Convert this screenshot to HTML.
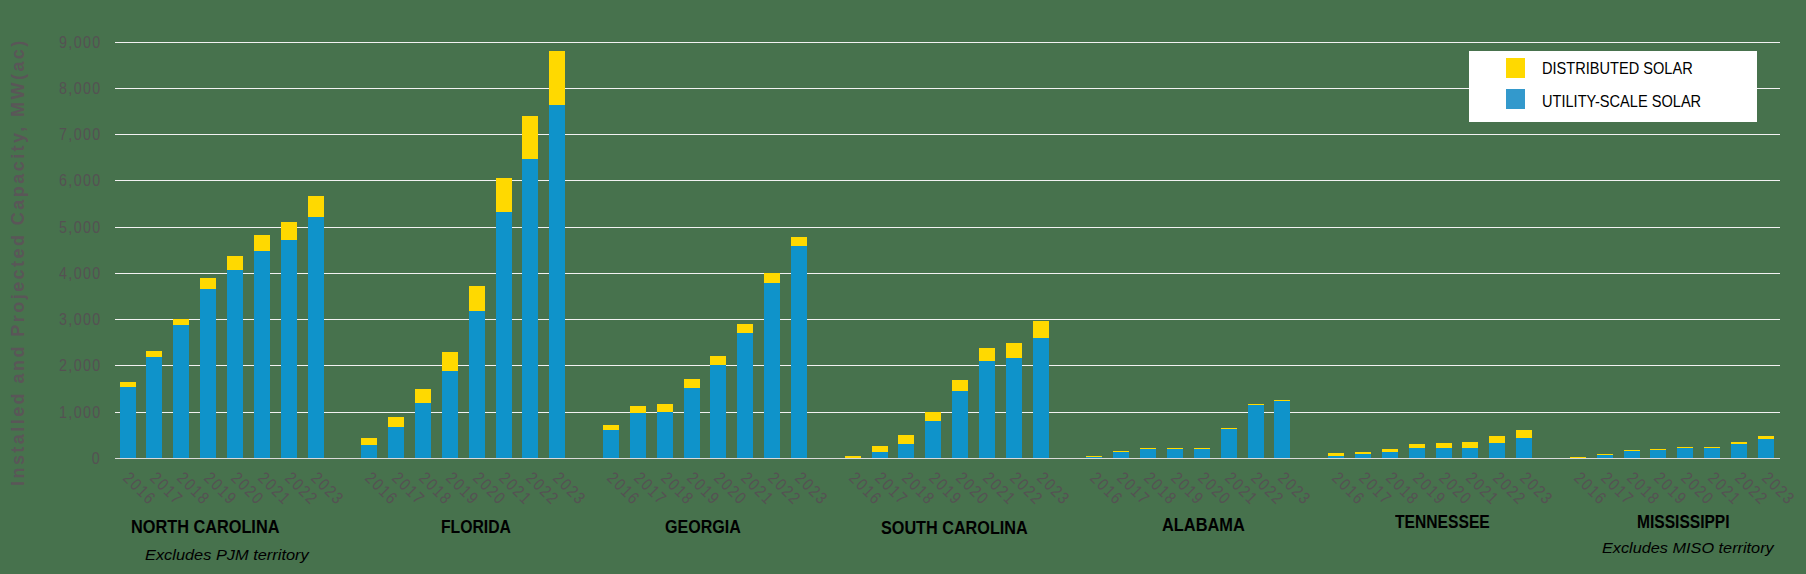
<!DOCTYPE html>
<html><head><meta charset="utf-8"><style>
html,body{margin:0;padding:0;}
body{width:1806px;height:574px;background:#47724d;position:relative;overflow:hidden;font-family:"Liberation Sans",sans-serif;}
#c div{position:absolute;}
.yl{position:absolute;right:1704.5px;font-size:17px;color:#555153;line-height:18px;letter-spacing:1.6px;white-space:nowrap;transform-origin:100% 0;transform:scaleX(0.84);}
.xl{position:absolute;font-size:17px;color:#555153;line-height:18px;letter-spacing:2px;white-space:nowrap;transform-origin:0 0;transform:rotate(45deg) scaleX(0.84);}
.st{position:absolute;transform-origin:0 0;font-weight:bold;font-size:18px;color:#000;white-space:nowrap;line-height:20px;}
.ex{position:absolute;transform-origin:0 0;font-style:italic;font-size:15px;color:#000;white-space:nowrap;line-height:18px;}
#yt{position:absolute;left:8px;top:486px;transform-origin:0 0;transform:rotate(-90deg);font-weight:bold;font-size:18px;color:#5a5658;letter-spacing:2.45px;white-space:nowrap;line-height:20px;}
#leg{position:absolute;left:1469px;top:51px;width:288px;height:71px;background:#fff;}
.sw{position:absolute;left:37px;width:19px;height:20px;}
.lt{position:absolute;left:73px;font-size:16.5px;color:#000;white-space:nowrap;line-height:18px;transform-origin:0 0;transform:scaleX(0.884);}
</style></head><body>
<div id="c">
<div style="left:115px;top:42px;width:1665px;height:1px;background:#f2f2f2"></div>
<div style="left:115px;top:88px;width:1665px;height:1px;background:#f2f2f2"></div>
<div style="left:115px;top:134px;width:1665px;height:1px;background:#f2f2f2"></div>
<div style="left:115px;top:180px;width:1665px;height:1px;background:#f2f2f2"></div>
<div style="left:115px;top:227px;width:1665px;height:1px;background:#f2f2f2"></div>
<div style="left:115px;top:273px;width:1665px;height:1px;background:#f2f2f2"></div>
<div style="left:115px;top:319px;width:1665px;height:1px;background:#f2f2f2"></div>
<div style="left:115px;top:365px;width:1665px;height:1px;background:#f2f2f2"></div>
<div style="left:115px;top:412px;width:1665px;height:1px;background:#f2f2f2"></div>
<div style="left:120px;top:382px;width:16px;height:5px;background:#ffd900"></div>
<div style="left:120px;top:387px;width:16px;height:71px;background:#0f93ca"></div>
<div style="left:146px;top:351px;width:16px;height:6px;background:#ffd900"></div>
<div style="left:146px;top:357px;width:16px;height:101px;background:#0f93ca"></div>
<div style="left:173px;top:319px;width:16px;height:6px;background:#ffd900"></div>
<div style="left:173px;top:325px;width:16px;height:133px;background:#0f93ca"></div>
<div style="left:200px;top:278px;width:16px;height:11px;background:#ffd900"></div>
<div style="left:200px;top:289px;width:16px;height:169px;background:#0f93ca"></div>
<div style="left:227px;top:256px;width:16px;height:14px;background:#ffd900"></div>
<div style="left:227px;top:270px;width:16px;height:188px;background:#0f93ca"></div>
<div style="left:254px;top:235px;width:16px;height:16px;background:#ffd900"></div>
<div style="left:254px;top:251px;width:16px;height:207px;background:#0f93ca"></div>
<div style="left:281px;top:222px;width:16px;height:18px;background:#ffd900"></div>
<div style="left:281px;top:240px;width:16px;height:218px;background:#0f93ca"></div>
<div style="left:308px;top:196px;width:16px;height:21px;background:#ffd900"></div>
<div style="left:308px;top:217px;width:16px;height:241px;background:#0f93ca"></div>
<div style="left:361px;top:438px;width:16px;height:7px;background:#ffd900"></div>
<div style="left:361px;top:445px;width:16px;height:13px;background:#0f93ca"></div>
<div style="left:388px;top:417px;width:16px;height:10px;background:#ffd900"></div>
<div style="left:388px;top:427px;width:16px;height:31px;background:#0f93ca"></div>
<div style="left:415px;top:389px;width:16px;height:14px;background:#ffd900"></div>
<div style="left:415px;top:403px;width:16px;height:55px;background:#0f93ca"></div>
<div style="left:442px;top:352px;width:16px;height:19px;background:#ffd900"></div>
<div style="left:442px;top:371px;width:16px;height:87px;background:#0f93ca"></div>
<div style="left:469px;top:286px;width:16px;height:25px;background:#ffd900"></div>
<div style="left:469px;top:311px;width:16px;height:147px;background:#0f93ca"></div>
<div style="left:496px;top:178px;width:16px;height:34px;background:#ffd900"></div>
<div style="left:496px;top:212px;width:16px;height:246px;background:#0f93ca"></div>
<div style="left:522px;top:116px;width:16px;height:43px;background:#ffd900"></div>
<div style="left:522px;top:159px;width:16px;height:299px;background:#0f93ca"></div>
<div style="left:549px;top:51px;width:16px;height:54px;background:#ffd900"></div>
<div style="left:549px;top:105px;width:16px;height:353px;background:#0f93ca"></div>
<div style="left:603px;top:425px;width:16px;height:5px;background:#ffd900"></div>
<div style="left:603px;top:430px;width:16px;height:28px;background:#0f93ca"></div>
<div style="left:630px;top:406px;width:16px;height:7px;background:#ffd900"></div>
<div style="left:630px;top:413px;width:16px;height:45px;background:#0f93ca"></div>
<div style="left:657px;top:404px;width:16px;height:8px;background:#ffd900"></div>
<div style="left:657px;top:412px;width:16px;height:46px;background:#0f93ca"></div>
<div style="left:684px;top:379px;width:16px;height:9px;background:#ffd900"></div>
<div style="left:684px;top:388px;width:16px;height:70px;background:#0f93ca"></div>
<div style="left:710px;top:356px;width:16px;height:9px;background:#ffd900"></div>
<div style="left:710px;top:365px;width:16px;height:93px;background:#0f93ca"></div>
<div style="left:737px;top:324px;width:16px;height:9px;background:#ffd900"></div>
<div style="left:737px;top:333px;width:16px;height:125px;background:#0f93ca"></div>
<div style="left:764px;top:273px;width:16px;height:10px;background:#ffd900"></div>
<div style="left:764px;top:283px;width:16px;height:175px;background:#0f93ca"></div>
<div style="left:791px;top:237px;width:16px;height:9px;background:#ffd900"></div>
<div style="left:791px;top:246px;width:16px;height:212px;background:#0f93ca"></div>
<div style="left:845px;top:456px;width:16px;height:2px;background:#ffd900"></div>
<div style="left:872px;top:446px;width:16px;height:6px;background:#ffd900"></div>
<div style="left:872px;top:452px;width:16px;height:6px;background:#0f93ca"></div>
<div style="left:898px;top:435px;width:16px;height:9px;background:#ffd900"></div>
<div style="left:898px;top:444px;width:16px;height:14px;background:#0f93ca"></div>
<div style="left:925px;top:412px;width:16px;height:9px;background:#ffd900"></div>
<div style="left:925px;top:421px;width:16px;height:37px;background:#0f93ca"></div>
<div style="left:952px;top:380px;width:16px;height:11px;background:#ffd900"></div>
<div style="left:952px;top:391px;width:16px;height:67px;background:#0f93ca"></div>
<div style="left:979px;top:348px;width:16px;height:13px;background:#ffd900"></div>
<div style="left:979px;top:361px;width:16px;height:97px;background:#0f93ca"></div>
<div style="left:1006px;top:343px;width:16px;height:15px;background:#ffd900"></div>
<div style="left:1006px;top:358px;width:16px;height:100px;background:#0f93ca"></div>
<div style="left:1033px;top:321px;width:16px;height:17px;background:#ffd900"></div>
<div style="left:1033px;top:338px;width:16px;height:120px;background:#0f93ca"></div>
<div style="left:1086px;top:456px;width:16px;height:1px;background:#ffd900"></div>
<div style="left:1086px;top:457px;width:16px;height:1px;background:#0f93ca"></div>
<div style="left:1113px;top:451px;width:16px;height:1px;background:#ffd900"></div>
<div style="left:1113px;top:452px;width:16px;height:6px;background:#0f93ca"></div>
<div style="left:1140px;top:448px;width:16px;height:1px;background:#ffd900"></div>
<div style="left:1140px;top:449px;width:16px;height:9px;background:#0f93ca"></div>
<div style="left:1167px;top:448px;width:16px;height:1px;background:#ffd900"></div>
<div style="left:1167px;top:449px;width:16px;height:9px;background:#0f93ca"></div>
<div style="left:1194px;top:448px;width:16px;height:1px;background:#ffd900"></div>
<div style="left:1194px;top:449px;width:16px;height:9px;background:#0f93ca"></div>
<div style="left:1221px;top:428px;width:16px;height:1px;background:#ffd900"></div>
<div style="left:1221px;top:429px;width:16px;height:29px;background:#0f93ca"></div>
<div style="left:1248px;top:404px;width:16px;height:1px;background:#ffd900"></div>
<div style="left:1248px;top:405px;width:16px;height:53px;background:#0f93ca"></div>
<div style="left:1274px;top:400px;width:16px;height:1px;background:#ffd900"></div>
<div style="left:1274px;top:401px;width:16px;height:57px;background:#0f93ca"></div>
<div style="left:1328px;top:453px;width:16px;height:3px;background:#ffd900"></div>
<div style="left:1328px;top:456px;width:16px;height:2px;background:#0f93ca"></div>
<div style="left:1355px;top:452px;width:16px;height:2px;background:#ffd900"></div>
<div style="left:1355px;top:454px;width:16px;height:4px;background:#0f93ca"></div>
<div style="left:1382px;top:449px;width:16px;height:3px;background:#ffd900"></div>
<div style="left:1382px;top:452px;width:16px;height:6px;background:#0f93ca"></div>
<div style="left:1409px;top:444px;width:16px;height:4px;background:#ffd900"></div>
<div style="left:1409px;top:448px;width:16px;height:10px;background:#0f93ca"></div>
<div style="left:1436px;top:443px;width:16px;height:5px;background:#ffd900"></div>
<div style="left:1436px;top:448px;width:16px;height:10px;background:#0f93ca"></div>
<div style="left:1462px;top:442px;width:16px;height:6px;background:#ffd900"></div>
<div style="left:1462px;top:448px;width:16px;height:10px;background:#0f93ca"></div>
<div style="left:1489px;top:436px;width:16px;height:7px;background:#ffd900"></div>
<div style="left:1489px;top:443px;width:16px;height:15px;background:#0f93ca"></div>
<div style="left:1516px;top:430px;width:16px;height:8px;background:#ffd900"></div>
<div style="left:1516px;top:438px;width:16px;height:20px;background:#0f93ca"></div>
<div style="left:1570px;top:457px;width:16px;height:1px;background:#ffd900"></div>
<div style="left:1597px;top:454px;width:16px;height:1px;background:#ffd900"></div>
<div style="left:1597px;top:455px;width:16px;height:3px;background:#0f93ca"></div>
<div style="left:1624px;top:450px;width:16px;height:1px;background:#ffd900"></div>
<div style="left:1624px;top:451px;width:16px;height:7px;background:#0f93ca"></div>
<div style="left:1650px;top:449px;width:16px;height:1px;background:#ffd900"></div>
<div style="left:1650px;top:450px;width:16px;height:8px;background:#0f93ca"></div>
<div style="left:1677px;top:447px;width:16px;height:1px;background:#ffd900"></div>
<div style="left:1677px;top:448px;width:16px;height:10px;background:#0f93ca"></div>
<div style="left:1704px;top:447px;width:16px;height:1px;background:#ffd900"></div>
<div style="left:1704px;top:448px;width:16px;height:10px;background:#0f93ca"></div>
<div style="left:1731px;top:442px;width:16px;height:2px;background:#ffd900"></div>
<div style="left:1731px;top:444px;width:16px;height:14px;background:#0f93ca"></div>
<div style="left:1758px;top:436px;width:16px;height:3px;background:#ffd900"></div>
<div style="left:1758px;top:439px;width:16px;height:19px;background:#0f93ca"></div>
<div style="left:115px;top:458px;width:1665px;height:1px;background:#d9d9d9"></div>
</div>
<div class="yl" style="top:34px">9,000</div>
<div class="yl" style="top:80px">8,000</div>
<div class="yl" style="top:126px">7,000</div>
<div class="yl" style="top:172px">6,000</div>
<div class="yl" style="top:219px">5,000</div>
<div class="yl" style="top:265px">4,000</div>
<div class="yl" style="top:311px">3,000</div>
<div class="yl" style="top:357px">2,000</div>
<div class="yl" style="top:404px">1,000</div>
<div class="yl" style="top:450px">0</div>
<div class="xl" style="left:132.4px;top:469px">2016</div>
<div class="xl" style="left:159.3px;top:469px">2017</div>
<div class="xl" style="left:186.1px;top:469px">2018</div>
<div class="xl" style="left:213.0px;top:469px">2019</div>
<div class="xl" style="left:239.8px;top:469px">2020</div>
<div class="xl" style="left:266.7px;top:469px">2021</div>
<div class="xl" style="left:293.6px;top:469px">2022</div>
<div class="xl" style="left:320.4px;top:469px">2023</div>
<div class="xl" style="left:374.1px;top:469px">2016</div>
<div class="xl" style="left:401.0px;top:469px">2017</div>
<div class="xl" style="left:427.8px;top:469px">2018</div>
<div class="xl" style="left:454.7px;top:469px">2019</div>
<div class="xl" style="left:481.5px;top:469px">2020</div>
<div class="xl" style="left:508.4px;top:469px">2021</div>
<div class="xl" style="left:535.3px;top:469px">2022</div>
<div class="xl" style="left:562.1px;top:469px">2023</div>
<div class="xl" style="left:615.8px;top:469px">2016</div>
<div class="xl" style="left:642.7px;top:469px">2017</div>
<div class="xl" style="left:669.5px;top:469px">2018</div>
<div class="xl" style="left:696.4px;top:469px">2019</div>
<div class="xl" style="left:723.2px;top:469px">2020</div>
<div class="xl" style="left:750.1px;top:469px">2021</div>
<div class="xl" style="left:776.9px;top:469px">2022</div>
<div class="xl" style="left:803.8px;top:469px">2023</div>
<div class="xl" style="left:857.5px;top:469px">2016</div>
<div class="xl" style="left:884.4px;top:469px">2017</div>
<div class="xl" style="left:911.2px;top:469px">2018</div>
<div class="xl" style="left:938.1px;top:469px">2019</div>
<div class="xl" style="left:964.9px;top:469px">2020</div>
<div class="xl" style="left:991.8px;top:469px">2021</div>
<div class="xl" style="left:1018.6px;top:469px">2022</div>
<div class="xl" style="left:1045.5px;top:469px">2023</div>
<div class="xl" style="left:1099.2px;top:469px">2016</div>
<div class="xl" style="left:1126.1px;top:469px">2017</div>
<div class="xl" style="left:1152.9px;top:469px">2018</div>
<div class="xl" style="left:1179.8px;top:469px">2019</div>
<div class="xl" style="left:1206.6px;top:469px">2020</div>
<div class="xl" style="left:1233.5px;top:469px">2021</div>
<div class="xl" style="left:1260.3px;top:469px">2022</div>
<div class="xl" style="left:1287.2px;top:469px">2023</div>
<div class="xl" style="left:1340.9px;top:469px">2016</div>
<div class="xl" style="left:1367.8px;top:469px">2017</div>
<div class="xl" style="left:1394.6px;top:469px">2018</div>
<div class="xl" style="left:1421.5px;top:469px">2019</div>
<div class="xl" style="left:1448.3px;top:469px">2020</div>
<div class="xl" style="left:1475.2px;top:469px">2021</div>
<div class="xl" style="left:1502.0px;top:469px">2022</div>
<div class="xl" style="left:1528.9px;top:469px">2023</div>
<div class="xl" style="left:1582.6px;top:469px">2016</div>
<div class="xl" style="left:1609.5px;top:469px">2017</div>
<div class="xl" style="left:1636.3px;top:469px">2018</div>
<div class="xl" style="left:1663.2px;top:469px">2019</div>
<div class="xl" style="left:1690.0px;top:469px">2020</div>
<div class="xl" style="left:1716.9px;top:469px">2021</div>
<div class="xl" style="left:1743.7px;top:469px">2022</div>
<div class="xl" style="left:1770.6px;top:469px">2023</div>
<div id="yt">Installed and Projected Capacity, MW(ac)</div>
<div class="st" style="left:131px;top:517px;transform:scaleX(0.905)">NORTH CAROLINA</div>
<div class="ex" style="left:145px;top:546px;transform:scaleX(1.091)">Excludes PJM territory</div>
<div class="st" style="left:441px;top:517px;transform:scaleX(0.875)">FLORIDA</div>
<div class="st" style="left:665px;top:517px;transform:scaleX(0.892)">GEORGIA</div>
<div class="st" style="left:881px;top:518px;transform:scaleX(0.90)">SOUTH CAROLINA</div>
<div class="st" style="left:1162px;top:515px;transform:scaleX(0.909)">ALABAMA</div>
<div class="st" style="left:1395px;top:512px;transform:scaleX(0.869)">TENNESSEE</div>
<div class="st" style="left:1637px;top:512px;transform:scaleX(0.865)">MISSISSIPPI</div>
<div class="ex" style="left:1602px;top:539px;transform:scaleX(1.084)">Excludes MISO territory</div>
<div id="leg">
<div class="sw" style="top:7px;background:#ffd900"></div>
<div class="sw" style="top:38px;background:#3399cc"></div>
<div class="lt" style="top:8px">DISTRIBUTED SOLAR</div>
<div class="lt" style="top:41px">UTILITY-SCALE SOLAR</div>
</div>
</body></html>
